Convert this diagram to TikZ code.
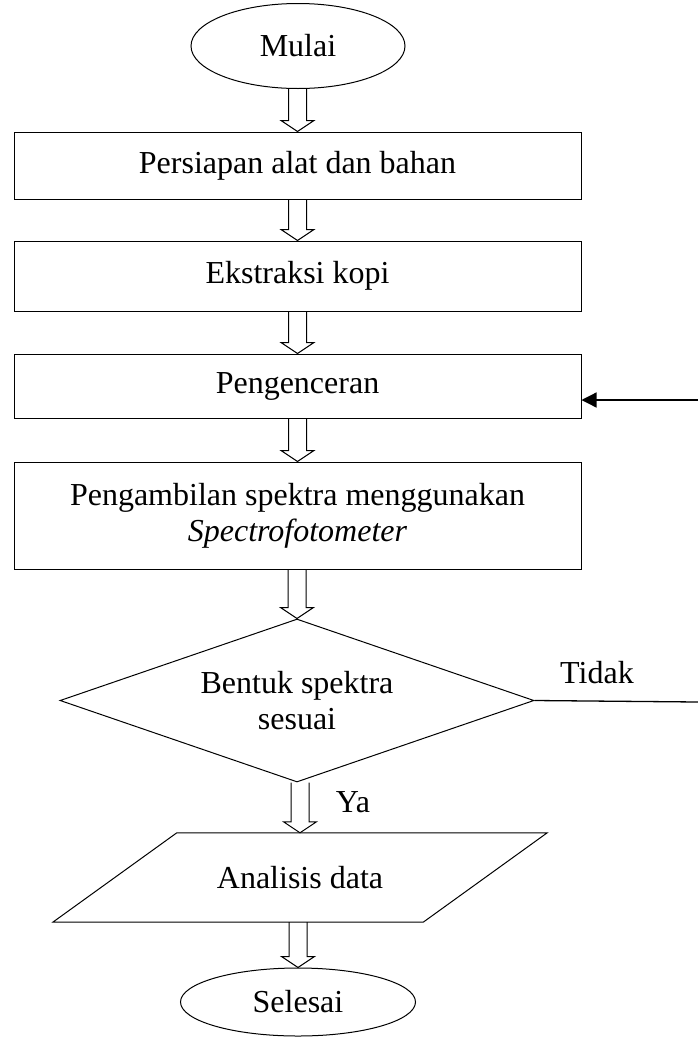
\documentclass[tikz,border=0pt]{standalone}
\usepackage{fontspec}
\setmainfont{Liberation Serif}
\usetikzlibrary{shapes.geometric,arrows.meta,calc}
\tikzset{
  flowline/.style={draw=black,line width=1pt},
  terminal/.style={ellipse,draw,line width=1pt,inner sep=0pt},
  procbox/.style={rectangle,draw,line width=1pt,inner sep=0pt,minimum width=567pt},
  decision/.style={diamond,draw,line width=1pt,inner sep=0pt,aspect=2.9,minimum width=474pt,minimum height=163pt},
  lbl/.style={inner sep=0pt},
  fb/.style={line width=1.3pt,-{Triangle[length=15pt,width=15pt]}}
}
\newcommand\hollowarrow[2]{%
  \draw[flowline,line join=miter] let \p1=(#1.south), \p2=(#2.north) in
    (\x2-9pt,\y1) -- (\x2-9pt,\y2+11pt) -- (\x2-16.5pt,\y2+11pt) -- (\x2,\y2)
    -- (\x2+16.5pt,\y2+11pt) -- (\x2+9pt,\y2+11pt) -- (\x2+9pt,\y1);}
\begin{document}
\begin{tikzpicture}[x=1pt,y=-1pt,font=\fontsize{32}{36}\selectfont]
\useasboundingbox (0,0) rectangle (698,1037);
\node[terminal,minimum width=214pt,minimum height=85pt] (start) at (298,46) {Mulai};
\node[procbox,minimum height=67pt] (b1) at (297.5,165.5) {Persiapan alat dan bahan};
\node[procbox,minimum height=70pt] (b2) at (297.5,276) {Ekstraksi kopi};
\node[procbox,minimum height=64pt] (b3) at (297.5,386) {Pengenceran};
\node[procbox,minimum height=107pt,align=center] (b4) at (297.5,515.5) {Pengambilan spektra menggunakan\\\textit{Spectrofotometer}};
\node[decision,align=center] (dec) at (297,700.5) {Bentuk spektra\\sesuai};
\node[inner sep=0pt,minimum width=370pt,minimum height=89pt] (data) at (300,877.5) {Analisis data};
\draw[flowline,line join=miter] ([xshift=62pt]data.north west) -- ([xshift=62pt]data.north east)
  -- ([xshift=-62pt]data.south east) -- ([xshift=-62pt]data.south west) -- cycle;
\node[terminal,minimum width=235pt,minimum height=68pt] (end) at (298,1002) {Selesai};

\hollowarrow{start}{b1}
\hollowarrow{b1}{b2}
\hollowarrow{b2}{b3}
\hollowarrow{b3}{b4}
\hollowarrow{b4}{dec}
\hollowarrow{dec}{data}
\hollowarrow{data}{end}

\coordinate (noout) at (698,702);
\coordinate (fbin) at (698,400);
\draw[flowline,line width=1.3pt] (dec.east) -- (noout);
\draw[fb] (fbin) -- (b3.east |- fbin);
\node[lbl] (tidak) at (597,673) {Tidak};
\node[lbl] (ya) at (353,802) {Ya};
\end{tikzpicture}
\end{document}
